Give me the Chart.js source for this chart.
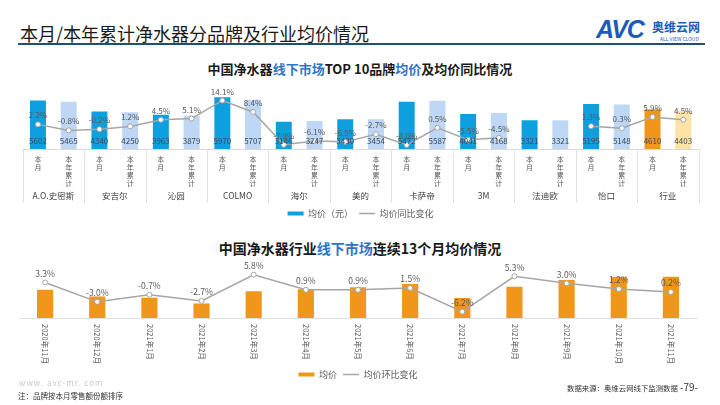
<!DOCTYPE html>
<html>
<head>
<meta charset="utf-8">
<script src="https://cdn.jsdelivr.net/npm/chart.js@4.4.0/dist/chart.umd.min.js"></script>
<style>
  body { margin: 0; background: #fff; font-family: "Noto Sans CJK SC", "Noto Sans", sans-serif; }
  #page { position: relative; width: 720px; height: 405px; overflow: hidden; background: #fff; }
  .t { position: absolute; white-space: nowrap; }
  .blue { color: #2e75c6; }
  canvas { position: absolute; left: 0; }
</style>
</head>
<body>
<div id="page">
  <div class="t" style="left:20px;top:20px;font-size:18px;color:#1a1a1a;">本月/本年累计净水器分品牌及行业均价情况</div>
  <div style="position:absolute;left:18px;top:43px;width:687px;height:2px;background:#1f4e79;"></div>
  <div class="t" style="left:596px;top:15px;font:italic bold 25px 'Liberation Sans',Arial,sans-serif;color:#1e5bb8;letter-spacing:-1px;">AVC</div>
  <div class="t" style="left:652px;top:18px;font-size:12px;font-weight:bold;color:#1e5bb8;">奥维云网</div>
  <div class="t" style="left:660px;top:35px;font-size:5px;color:#1e5bb8;">ALL VIEW CLOUD</div>

  <div class="t" style="left:0;width:720px;text-align:center;top:59px;font-size:13px;font-weight:bold;color:#1a1a1a;">中国净水器<span class="blue">线下市场</span>TOP 10品牌<span class="blue">均价</span>及均价同比情况</div>
  <canvas id="topChart" width="720" height="153" style="top:75px;width:720px;height:153px;"></canvas>

  <div class="t" style="left:0;width:720px;text-align:center;top:238px;font-size:14px;font-weight:bold;color:#1a1a1a;">中国净水器行业<span class="blue">线下市场</span>连续13个月均价情况</div>
  <canvas id="bottomChart" width="720" height="134" style="top:255px;width:720px;height:134px;"></canvas>

  <div class="t" style="left:19px;top:377px;font-size:8px;color:#c8c8c8;letter-spacing:1px;">www. avc-mr. com</div>
  <div class="t" style="left:18px;top:390px;font-size:7.5px;color:#333;">注：品牌按本月零售额份额排序</div>
  <div class="t" style="left:567px;top:382px;font-size:7.4px;color:#333;">数据来源：奥维云网线下监测数据</div>
  <div class="t" style="left:680px;top:379px;font-size:10px;color:#333;">-79-</div>
</div>

<script>
// top chart data
const brands = ["A.O.史密斯", "安吉尔", "沁园", "COLMO", "海尔", "美的", "卡萨帝", "3M", "法迪欧", "怡口", "行业"];
const periods = [["本", "月"], ["本", "年", "累", "计"]];
const monthPrice = [5602, 4340, 3963, 5970, 3146, 3430, 5472, 4041, 3321, 5195, 4610];
const ytdPrice = [5465, 4250, 3879, 5707, 3247, 3454, 5587, 4168, 3321, 5148, 4403];
const monthYoY = [2.2, -0.2, 4.5, 14.1, -7.9, -6.5, -8.0, -5.5, null, 1.3, 5.9];
const ytdYoY = [-0.8, 1.2, 5.1, 8.4, -6.1, -2.7, 0.5, -4.5, null, 0.3, 4.5];

// bottom chart data
const months = ["2020年11月", "2020年12月", "2021年1月", "2021年2月", "2021年3月", "2021年4月", "2021年5月",
  "2021年6月", "2021年7月", "2021年8月", "2021年9月", "2021年10月", "2021年11月"];
const avgPrice = [4354, 4224, 4198, 4085, 4323, 4363, 4402, 4468, 4192, 4415, 4548, 4603, 4610];
const momChange = [3.3, -3.0, -0.7, -2.7, 5.8, 0.9, 0.9, 1.5, -6.2, 5.3, 3.0, 1.2, 0.2];

const FONT = '"Noto Sans CJK SC", "Noto Sans", sans-serif';
const BLUE = "#0ea0de", LIGHT_BLUE = "#bdd7f4", ORANGE = "#f0961b", LIGHT_ORANGE = "#fde3a6", GREY = "#a6a6a6";

// interleave 本月 / 本年累计
const topLabels = [], topPrice = [], topYoY = [], topColors = [];
brands.forEach((b, i) => {
  const isIndustry = b === "行业";
  topLabels.push(periods[0], periods[1]);
  topPrice.push(monthPrice[i], ytdPrice[i]);
  topYoY.push(monthYoY[i], ytdYoY[i]);
  topColors.push(isIndustry ? ORANGE : BLUE, isIndustry ? LIGHT_ORANGE : LIGHT_BLUE);
});

// draws numbers on bars and percents over points
const valueLabels = {
  id: "valueLabels",
  afterDatasetsDraw(chart, args, opts) {
    const ctx = chart.ctx;
    ctx.save();
    ctx.textAlign = "center";
    ctx.textBaseline = "middle";
    chart.data.datasets.forEach((ds, i) => {
      const meta = chart.getDatasetMeta(i);
      meta.data.forEach((el, j) => {
        const v = ds.data[j];
        if (v === null || v === undefined) return;
        if (meta.type === "bar") {
          ctx.font = opts.barFont;
          ctx.fillStyle = opts.barColor;
          ctx.fillText(String(v), el.x, el.base - opts.barOffset);
        } else {
          ctx.font = opts.lineFont;
          ctx.fillStyle = opts.lineColor;
          ctx.fillText(v.toFixed(1) + "%", el.x, el.y - opts.lineOffset);
        }
      });
    });
    ctx.restore();
  }
};

// thin separators between brand groups
const groupLines = {
  id: "groupLines",
  afterDraw(chart) {
    const x = chart.scales.x, x2 = chart.scales.x2, ctx = chart.ctx;
    const step = (x.right - x.left) / brands.length;
    ctx.save();
    ctx.strokeStyle = "#e2e2e2";
    ctx.lineWidth = 1;
    for (let k = 0; k <= brands.length; k++) {
      const px = Math.round(x.left + k * step) + 0.5;
      ctx.beginPath();
      ctx.moveTo(px, x.top);
      ctx.lineTo(px, x2.bottom);
      ctx.stroke();
    }
    ctx.restore();
  }
};

// month labels turned clockwise, read top to bottom
const turnedLabels = {
  id: "turnedLabels",
  afterDraw(chart) {
    const x = chart.scales.x, ctx = chart.ctx;
    ctx.save();
    ctx.font = "7.5px " + FONT;
    ctx.fillStyle = "#595959";
    ctx.textAlign = "left";
    ctx.textBaseline = "middle";
    months.forEach((m, i) => {
      ctx.save();
      ctx.translate(x.getPixelForTick(i), x.top + 6);
      ctx.rotate(Math.PI / 2);
      ctx.fillText(m, 0, 0);
      ctx.restore();
    });
    ctx.restore();
  }
};

function legendOpts(items) {
  return {
    position: "bottom",
    labels: {
      usePointStyle: true,
      pointStyleWidth: 16,
      boxHeight: 4,
      padding: 6,
      color: "#595959",
      font: { size: 9, family: FONT },
      generateLabels: () => items
    }
  };
}

new Chart(document.getElementById("topChart").getContext("2d"), {
  type: "bar",
  data: {
    labels: topLabels,
    datasets: [
      {
        type: "line",
        label: "均价同比变化",
        data: topYoY,
        yAxisID: "y2",
        borderColor: GREY,
        borderWidth: 1.5,
        pointRadius: 2.5,
        pointBackgroundColor: "#fff",
        pointBorderColor: GREY,
        pointBorderWidth: 1,
        spanGaps: false,
        order: 0
      },
      {
        label: "均价（元）",
        data: topPrice,
        yAxisID: "y",
        backgroundColor: topColors,
        barPercentage: 0.52,
        categoryPercentage: 1,
        order: 1
      }
    ]
  },
  options: {
    responsive: false,
    devicePixelRatio: 1,
    animation: false,
    layout: { padding: { left: 22.6, right: 21.4, top: 10, bottom: 0 } },
    plugins: {
      legend: legendOpts([
        { text: "均价（元）", fillStyle: BLUE, strokeStyle: BLUE, lineWidth: 0, pointStyle: "rect", hidden: false, datasetIndex: 1, fontColor: "#595959" },
        { text: "均价同比变化", fillStyle: "#fff", strokeStyle: GREY, lineWidth: 1.5, pointStyle: "line", hidden: false, datasetIndex: 0, fontColor: "#595959" }
      ]),
      tooltip: { enabled: false },
      valueLabels: { barFont: "8px " + FONT, barColor: "#3b4a5a", barOffset: 8, lineFont: "8px " + FONT, lineColor: "#595959", lineOffset: 9 }
    },
    scales: {
      x: {
        grid: { display: false, drawTicks: false },
        border: { display: true, color: "#d9d9d9" },
        ticks: { autoSkip: false, maxRotation: 0, padding: 6, color: "#595959", font: { size: 7, family: FONT, lineHeight: 1.15 } },
        afterFit: (s) => { s.height = 38; }
      },
      x2: {
        type: "category",
        labels: brands,
        position: "bottom",
        grid: { display: false, drawTicks: false },
        border: { display: false },
        ticks: { autoSkip: false, maxRotation: 0, padding: 4, color: "#404040", font: { size: 8.5, family: FONT } },
        afterFit: (s) => { s.height = 16; }
      },
      y: { display: false, min: 0, max: 7400 },
      y2: { display: false, min: -10.05, max: 21.8 }
    }
  },
  plugins: [valueLabels, groupLines]
});

new Chart(document.getElementById("bottomChart").getContext("2d"), {
  type: "bar",
  data: {
    labels: months,
    datasets: [
      {
        type: "line",
        label: "均价环比变化",
        data: momChange,
        yAxisID: "y2",
        borderColor: GREY,
        borderWidth: 1.5,
        pointRadius: 2.5,
        pointBackgroundColor: "#fff",
        pointBorderColor: GREY,
        pointBorderWidth: 1,
        order: 0
      },
      {
        label: "均价",
        data: avgPrice,
        yAxisID: "y",
        backgroundColor: ORANGE,
        barPercentage: 0.31,
        categoryPercentage: 1,
        order: 1
      }
    ]
  },
  options: {
    responsive: false,
    devicePixelRatio: 1,
    animation: false,
    layout: { padding: { left: 19, right: 23, top: 7, bottom: 0 } },
    plugins: {
      legend: legendOpts([
        { text: "均价", fillStyle: ORANGE, strokeStyle: ORANGE, lineWidth: 0, pointStyle: "rect", hidden: false, datasetIndex: 1, fontColor: "#595959" },
        { text: "均价环比变化", fillStyle: "#fff", strokeStyle: GREY, lineWidth: 1.5, pointStyle: "line", hidden: false, datasetIndex: 0, fontColor: "#595959" }
      ]),
      tooltip: { enabled: false },
      valueLabels: { barFont: "8px " + FONT, barColor: "#7a4a14", barOffset: 8, lineFont: "8.5px " + FONT, lineColor: "#595959", lineOffset: 9 }
    },
    scales: {
      x: {
        grid: { display: false, drawTicks: false },
        border: { display: true, color: "#e0e0e0" },
        ticks: { display: false },
        afterFit: (s) => { s.height = 46; }
      },
      y: { display: false, min: 3800, max: 4900 },
      y2: { display: false, min: -8.25, max: 9.94 }
    }
  },
  plugins: [valueLabels, turnedLabels]
});
</script>
</body>
</html>
